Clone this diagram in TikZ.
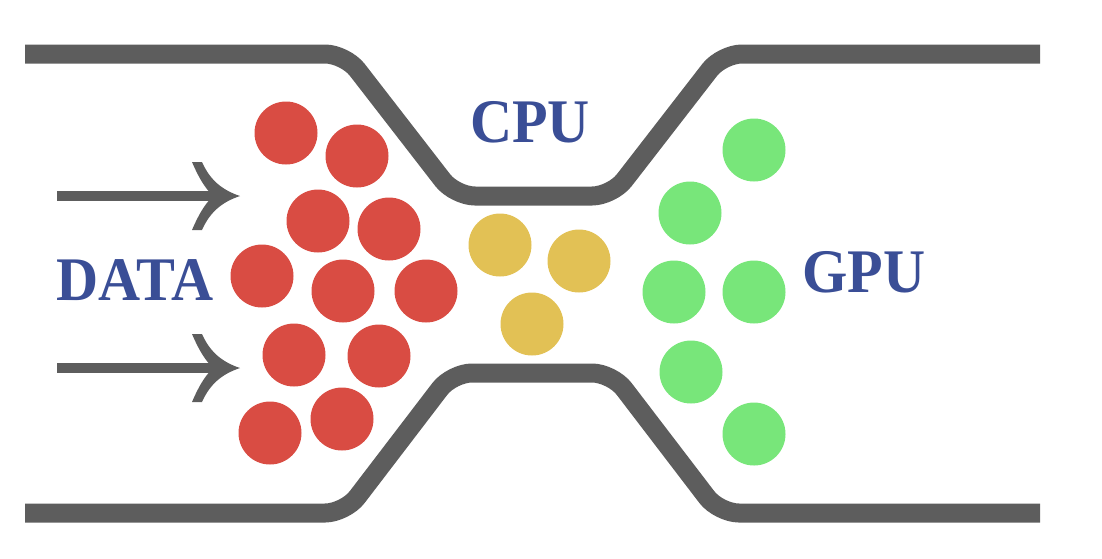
\documentclass[tikz,border=0pt]{standalone}
\usepackage{fontspec}
\setmainfont{Liberation Serif}

\definecolor{pipegray}{HTML}{5D5D5D}
\definecolor{datared}{HTML}{D94C43}
\definecolor{cpuyellow}{HTML}{E2C155}
\definecolor{gpugreen}{HTML}{78E67A}
\definecolor{labelblue}{HTML}{3A4E96}

\tikzset{flow_head/.pic={
	\fill[pipegray] (0,0) .. controls (-18,-6) and (-30,-16) .. (-38,-34) -- (-48,-34)
		.. controls (-42,-20) and (-36,-9) .. (-27,0)
		.. controls (-36,9) and (-42,20) .. (-48,34) -- (-38,34)
		.. controls (-30,16) and (-18,6) .. (0,0) -- cycle;
}}

\begin{document}
\begin{tikzpicture}[x=1pt, y=-1pt,
		pipe_style/.style={draw=pipegray,line width=19pt,rounded corners=20pt},
		flow_style/.style={draw=pipegray,line width=10pt,shorten >=24pt},
		red_ball/.style={circle,fill=datared,minimum size=63pt,inner sep=0pt},
		yellow_ball/.style={circle,fill=cpuyellow,minimum size=63pt,inner sep=0pt},
		green_ball/.style={circle,fill=gpugreen,minimum size=63pt,inner sep=0pt},
		label_style/.style={text=labelblue,font=\bfseries\fontsize{62}{62}\selectfont,inner sep=0pt,xscale=0.94}]
		
		\useasboundingbox (0,0) rectangle (1102,558);
		
		% pipe walls
		\draw[pipe_style] (25,54) -- (345,54) -- (455,196) -- (612,196) -- (722,54) -- (1040,54);
		\draw[pipe_style] (25,513) -- (345,513) -- (452,373) -- (612,373) -- (719,513) -- (1040,513);
		
		% data
		\node[red_ball] (r1) at (286,133) {};
		\node[red_ball] (r2) at (357,156) {};
		\node[red_ball] (r3) at (318,221) {};
		\node[red_ball] (r4) at (389,229) {};
		\node[red_ball] (r5) at (262,276) {};
		\node[red_ball] (r6) at (343,291) {};
		\node[red_ball] (r7) at (426,291) {};
		\node[red_ball] (r8) at (294,355) {};
		\node[red_ball] (r9) at (379,356) {};
		\node[red_ball] (r10) at (270,433) {};
		\node[red_ball] (r11) at (342,419) {};
		
		% cpu
		\node[yellow_ball] (y1) at (500,245) {};
		\node[yellow_ball] (y2) at (579,261) {};
		\node[yellow_ball] (y3) at (532,324) {};
		
		% gpu
		\node[green_ball] (g1) at (754,150) {};
		\node[green_ball] (g2) at (690,213) {};
		\node[green_ball] (g3) at (674,292) {};
		\node[green_ball] (g4) at (754,292) {};
		\node[green_ball] (g5) at (691,372) {};
		\node[green_ball] (g6) at (754,434) {};
		
		\node[label_style] (data) at (135,280) {DATA};
		\node[label_style] (cpu) at (530,122) {CPU};
		\node[label_style] (gpu) at (864,272) {GPU};
		
		\coordinate (in1) at (57,196);
		\coordinate (out1) at (240,196);
		\coordinate (in2) at (57,368);
		\coordinate (out2) at (240,368);
		
		\draw[flow_style] (in1) -- (out1);
		\draw[flow_style] (in2) -- (out2);
		\pic at (out1) {flow_head};
		\pic at (out2) {flow_head};
		
		\end{tikzpicture}
\end{document}
